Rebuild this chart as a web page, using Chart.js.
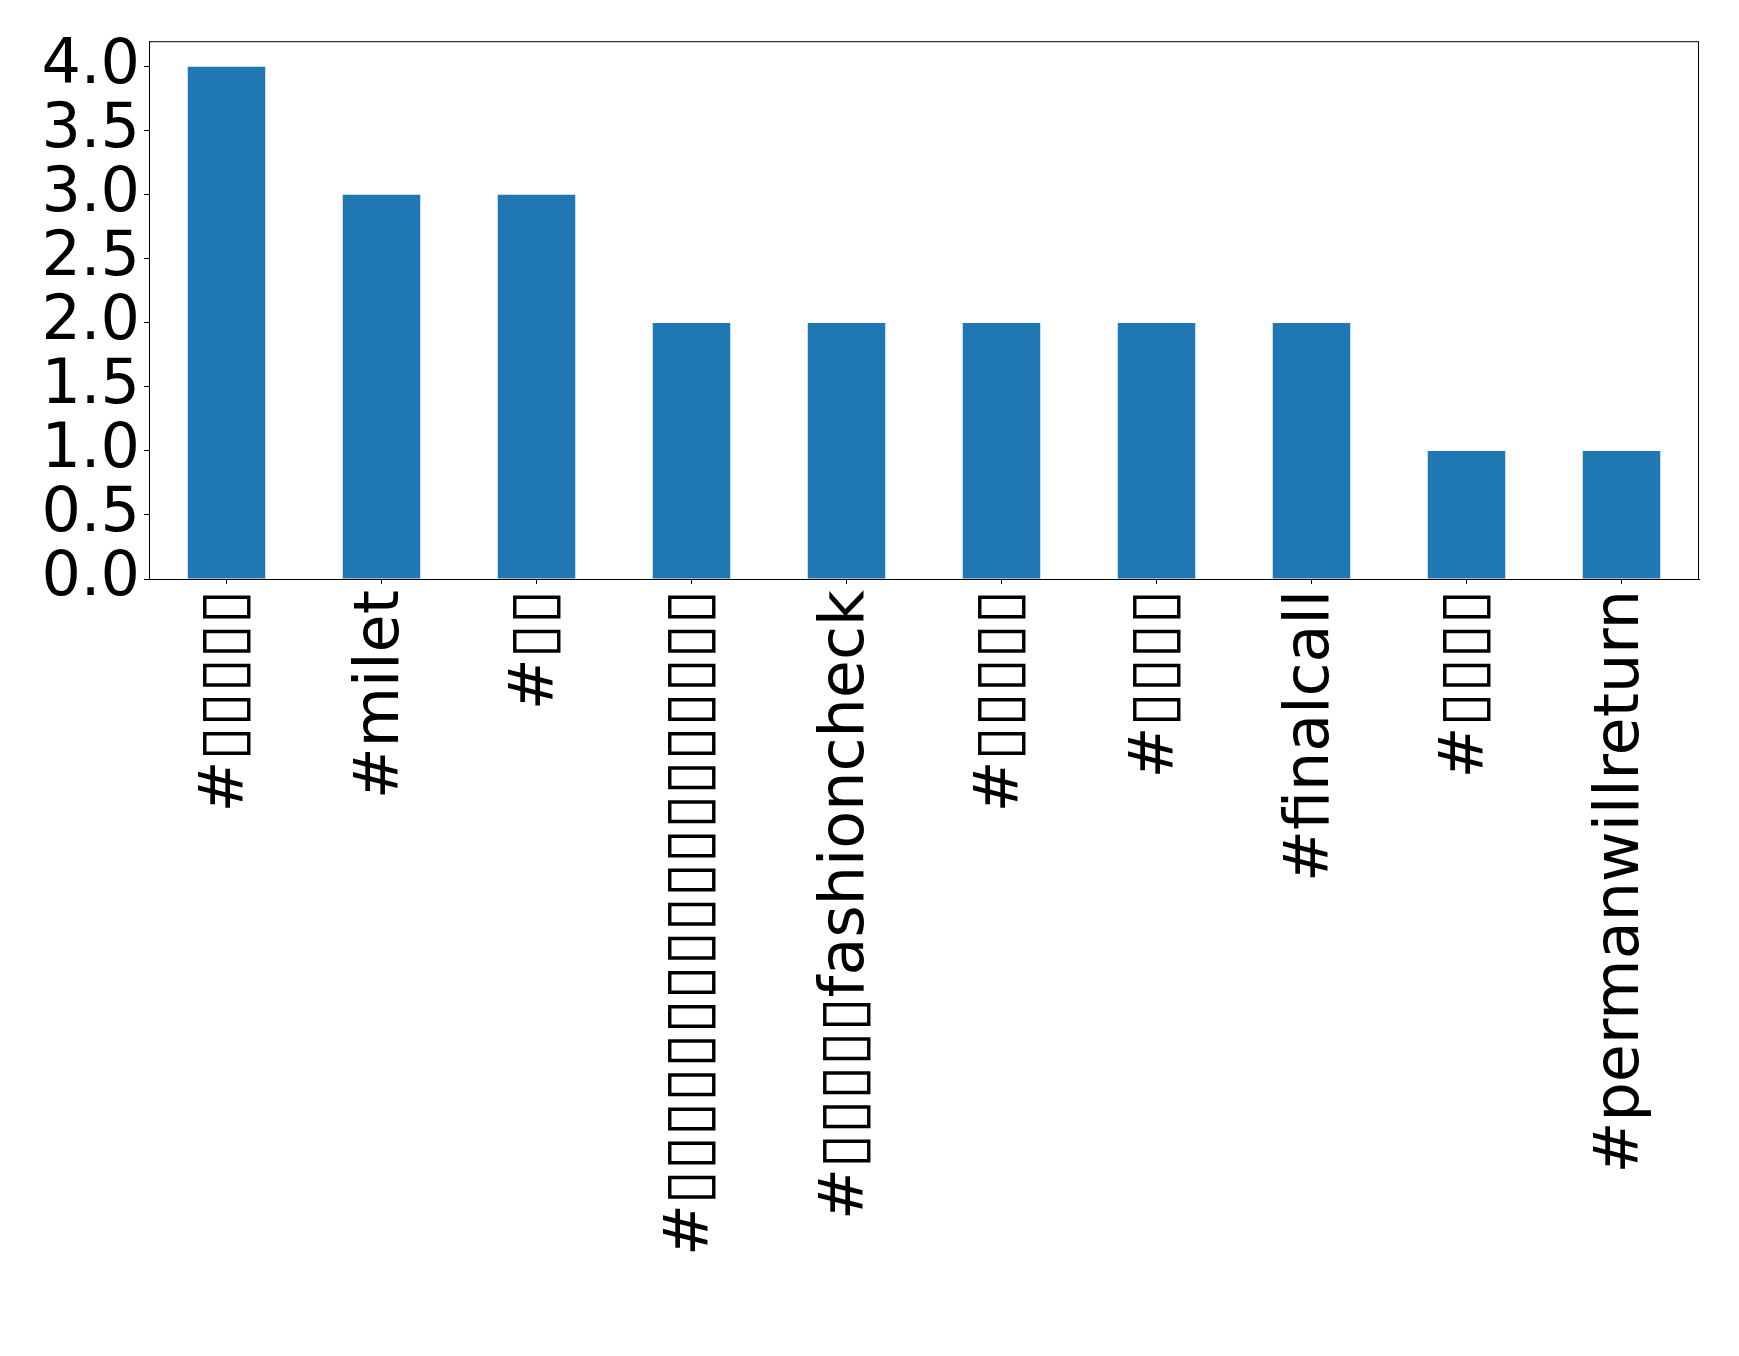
<!DOCTYPE html>
<html lang="en">
  <head>
    <meta charset="UTF-8" />
    <title>Hashtag counts</title>
    <script src="https://cdn.jsdelivr.net/npm/chart.js@4"></script>
    <style>
      body { margin: 0; background: #fff; }
      #wrap { width: 1739px; height: 1356px; }
    </style>
  </head>
  <body>
    <div id="wrap"><canvas id="myChart" width="1739" height="1356"></canvas></div>

    <script>
      // glyphs that the source font could not show come out as empty boxes
      const box = '\u25AF';
      const hashtags = [
        '#' + box.repeat(5),
        '#milet',
        '#' + box.repeat(2),
        '#' + box.repeat(18),
        '#' + box.repeat(5) + 'fashioncheck',
        '#' + box.repeat(5),
        '#' + box.repeat(4),
        '#finalcall',
        '#' + box.repeat(4),
        '#permanwillreturn'
      ];
      const counts = [4, 3, 3, 2, 2, 2, 2, 2, 1, 1];
      const yTicks = [0, 0.5, 1, 1.5, 2, 2.5, 3, 3.5, 4];

      const fontMain = { family: 'DejaVu Sans', size: 62 };

      // box round the plot area, like the top/right spines
      const frame = {
        id: 'frame',
        afterDraw(chart) {
          const a = chart.chartArea, c = chart.ctx;
          c.save();
          c.strokeStyle = '#000';
          c.lineWidth = 1;
          c.strokeRect(a.left + 0.5, a.top + 0.5, a.right - a.left - 1, a.bottom - a.top);
          c.restore();
        }
      };

      const ctx = document.getElementById('myChart').getContext('2d');
      const myChart = new Chart(ctx, {
        type: 'bar',
        data: {
          labels: hashtags,
          datasets: [{
            data: counts,
            backgroundColor: '#1f77b4',
            borderWidth: 0,
            categoryPercentage: 1,
            barPercentage: 0.5
          }]
        },
        options: {
          responsive: false,
          animation: false,
          layout: { padding: { top: 40, right: 40, left: 0, bottom: 0 } },
          plugins: { legend: { display: false }, tooltip: { enabled: false } },
          scales: {
            x: {
              offset: true,
              grid: { display: true, drawOnChartArea: false, drawTicks: true, tickLength: 5, color: '#000', offset: false },
              border: { color: '#000', width: 1 },
              ticks: {
                color: '#000',
                font: fontMain,
                minRotation: 90,
                maxRotation: 90,
                autoSkip: false,
                padding: 6
              },
              afterFit(scale) { scale.height = 1356 - 579; }
            },
            y: {
              min: 0,
              max: 4.2,
              grid: { display: true, drawOnChartArea: false, drawTicks: true, tickLength: 5, color: '#000' },
              border: { color: '#000', width: 1 },
              afterBuildTicks(scale) { scale.ticks = yTicks.map(v => ({ value: v })); },
              ticks: {
                color: '#000',
                font: fontMain,
                padding: 4,
                autoSkip: false,
                callback: v => Number(v).toFixed(1)
              },
              afterFit(scale) { scale.width = 149; }
            }
          }
        },
        plugins: [frame]
      });
    </script>
  </body>
</html>
